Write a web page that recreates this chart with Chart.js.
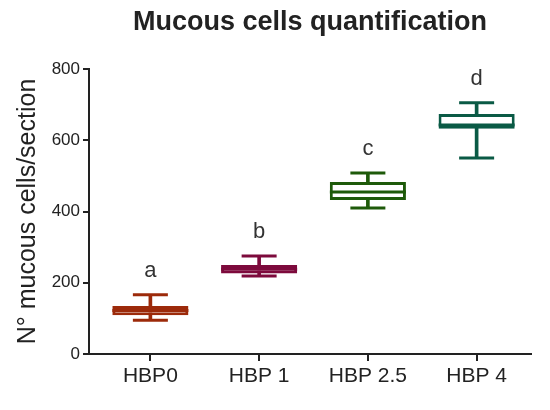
<!DOCTYPE html>
<html><head><meta charset="utf-8">
<script src="https://cdn.jsdelivr.net/npm/chart.js@4/dist/chart.umd.min.js"></script>
<style>html,body{margin:0;padding:0;background:#fff}</style>
</head><body>
<canvas id="c" width="550" height="410" style="width:550px;height:410px;display:block"></canvas>
<script>
const categories = ['HBP0', 'HBP 1', 'HBP 2.5', 'HBP 4'];
const whiskerMin = [95, 219, 410, 550];
const q1Values = [109, 226, 432, 632];
const medianValues = [122, 238, 455, 643];
const q3Values = [135, 250, 483, 674];
const whiskerMax = [166, 275, 508, 705];
const letters = ['a', 'b', 'c', 'd'];
const yTickValues = [0, 200, 400, 600, 800];
const chartTitle = 'Mucous cells quantification';
const yTitle = 'N° mucous cells/section';

const colors = ['#9c2a0a', '#7d0a3c', '#1e5a0a', '#0a5a45'];
const FONT = "'Liberation Sans', Arial, sans-serif";
const INK = '#222';

const annotate = {
  id: 'annotate',
  afterLayout(chart) {
    // small gap between the y axis and the first category, as in the reference
    const xs = chart.scales.x;
    const gap = 7;
    xs._startPixel += gap;
    xs._length -= gap;
  },
  afterDatasetsDraw(chart) {
    const ctx = chart.ctx;
    const xs = chart.scales.x, ys = chart.scales.y;
    ctx.save();
    ctx.fillStyle = '#333';
    ctx.font = '22px ' + FONT;
    ctx.textAlign = 'center';
    ctx.textBaseline = 'alphabetic';
    letters.forEach((l, i) => {
      ctx.fillText(l, xs.getPixelForValue(i), ys.getPixelForValue(whiskerMax[i]) - 18);
    });
    ctx.fillStyle = INK;
    ctx.font = 'bold 27px ' + FONT;
    ctx.textBaseline = 'middle';
    const ca = chart.chartArea;
    ctx.fillText(chartTitle, (ca.left + ca.right) / 2, 23);
    ctx.restore();
  }
};

new Chart(document.getElementById('c'), {
  type: 'bar',
  data: {
    labels: categories,
    datasets: [
      {
        type: 'bar', label: 'whisker',
        data: categories.map((c, i) => [whiskerMin[i], whiskerMax[i]]),
        backgroundColor: colors, barThickness: 3, grouped: false, order: 5
      },
      {
        type: 'bar', label: 'box',
        data: categories.map((c, i) => [q1Values[i], q3Values[i]]),
        backgroundColor: '#ffffff', borderColor: colors, borderWidth: 3,
        borderSkipped: false, barPercentage: 0.7, categoryPercentage: 1,
        grouped: false, order: 4
      },
      {
        type: 'line', label: 'median', data: medianValues, showLine: false,
        pointStyle: 'line', pointRadius: 38, pointHoverRadius: 38,
        pointBorderWidth: 3, pointBorderColor: colors, borderColor: colors, order: 1
      },
      {
        type: 'line', label: 'max', data: whiskerMax, showLine: false,
        pointStyle: 'line', pointRadius: 17.5, pointHoverRadius: 17.5,
        pointBorderWidth: 3, pointBorderColor: colors, borderColor: colors, order: 2
      },
      {
        type: 'line', label: 'min', data: whiskerMin, showLine: false,
        pointStyle: 'line', pointRadius: 17.5, pointHoverRadius: 17.5,
        pointBorderWidth: 3, pointBorderColor: colors, borderColor: colors, order: 2
      }
    ]
  },
  options: {
    responsive: false,
    animation: false,
    devicePixelRatio: 1,
    layout: { autoPadding: false, padding: { top: 69, right: 19, left: 0, bottom: 0 } },
    plugins: { legend: { display: false }, tooltip: { enabled: false }, title: { display: false } },
    scales: {
      x: {
        type: 'category', offset: true,
        grid: { display: true, drawOnChartArea: false, drawTicks: true, tickLength: 7, color: INK, lineWidth: 2, offset: false },
        border: { display: true, color: INK, width: 2 },
        ticks: { font: { family: FONT, size: 21 }, color: INK, padding: 3 },
        afterFit(s) { s.height = 56; s.paddingLeft = 0; s.paddingRight = 0; }
      },
      y: {
        min: 0, max: 800,
        afterBuildTicks(s) { s.ticks = yTickValues.map(v => ({ value: v })); },
        grid: { display: true, drawOnChartArea: false, drawTicks: true, tickLength: 6, color: INK, lineWidth: 2 },
        border: { display: true, color: INK, width: 2 },
        ticks: { font: { family: FONT, size: 17 }, color: INK, padding: 3 },
        title: { display: true, text: yTitle, font: { family: FONT, size: 25 }, color: INK, padding: { top: 13, bottom: 0 } },
        afterFit(s) { s.width = 89; s.paddingTop = 0; s.paddingBottom = 0; }
      }
    }
  },
  plugins: [annotate]
});
</script>
</body></html>
